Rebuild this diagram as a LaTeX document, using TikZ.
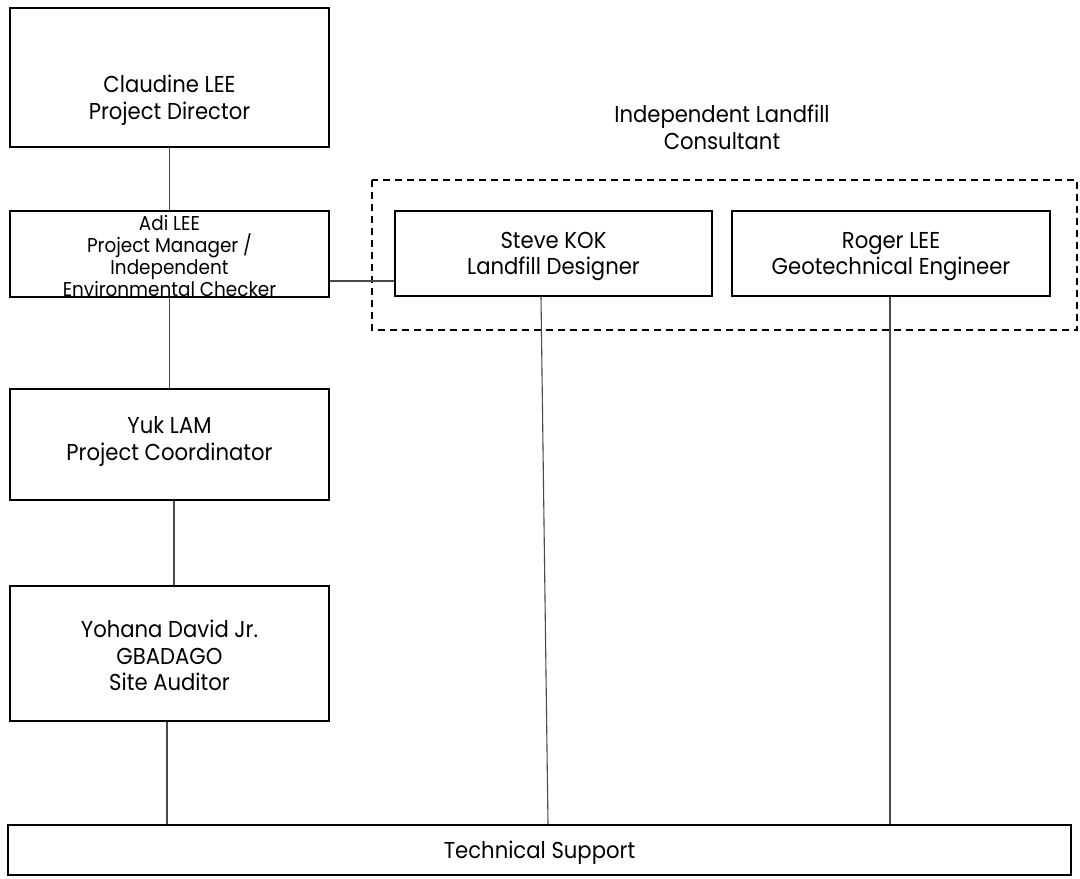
\documentclass[tikz,border=0pt]{standalone}
\usepackage{fontspec}
\setmainfont{Poppins}[FakeStretch=0.92]
\usetikzlibrary{calc}
\definecolor{linegrey}{HTML}{4A4A4A}
\tikzset{
  person/.style={draw=black, line width=1.4pt, rectangle, inner sep=0pt},
  caption/.style={align=center, font=\fontsize{23}{26.5}\selectfont, inner sep=0pt},
  link/.style={draw=linegrey, line width=1.1pt},
  group/.style={draw=black, line width=1.3pt, dash pattern=on 7pt off 5pt}
}
\begin{document}
\begin{tikzpicture}[x=1pt, y=-1pt]
\useasboundingbox (0,0) rectangle (1080,879);
\fill[white] (0,0) rectangle (1080,879);

% left column
\node[person, minimum width=319pt, minimum height=139pt] (claudine) at (169.5,77.5) {};
\node[caption] (claudinetxt) at (169.5,100) {Claudine LEE\\Project Director};
\node[person, minimum width=319pt, minimum height=86pt] (adi) at (169.5,254) {};
\node[caption, font=\fontsize{20}{22}\selectfont] (aditxt) at (169.5,255.5) {Adi LEE\\Project Manager /\\Independent\\Environmental Checker};
\node[person, minimum width=319pt, minimum height=111pt] (yuk) at (169.5,444.5) {};
\node[caption] (yuktxt) at (169.5,441.5) {Yuk LAM\\Project Coordinator};
\node[person, minimum width=319pt, minimum height=135pt] (yohana) at (169.5,653.5) {};
\node[caption] (yohanatxt) at (169.5,655.5) {Yohana David Jr.\\GBADAGO\\Site Auditor};

% consultant group
\draw[group] (372,180) rectangle (1077,330);
\node[caption] (grouplabel) at (722,127.5) {Independent Landfill\\Consultant};
\node[person, minimum width=317pt, minimum height=85pt] (steve) at (553.5,253.5) {};
\node[caption] (stevetxt) at (553.5,256.5) {Steve KOK\\Landfill Designer};
\node[person, minimum width=318pt, minimum height=85pt] (roger) at (891,253.5) {};
\node[caption] (rogertxt) at (891,256.5) {Roger LEE\\Geotechnical Engineer};

% bottom bar
\node[person, minimum width=1063pt, minimum height=50pt] (tech) at (539.5,850) {};
\node[caption] (techtxt) at (539.5,852.5) {Technical Support};

% connectors
\draw[link] (claudine.south) -- (adi.north);
\draw[link] (adi.south) -- (yuk.north);
\draw[link] ([xshift=4.5pt]yuk.south) -- ([xshift=4.5pt]yohana.north);
\draw[link] ([xshift=-2.5pt]yohana.south) -- ([xshift=-2.5pt]yohana.south |- tech.north);
\draw[link] ([yshift=-27pt]adi.east) -- ([yshift=-27pt]adi.east -| steve.west);
\draw[link] ([xshift=-12.5pt]steve.south) -- ($(tech.north)+(8.5,0)$);
\draw[link] ([xshift=-1pt]roger.south) -- ([xshift=-1pt]roger.south |- tech.north);
\end{tikzpicture}
\end{document}
